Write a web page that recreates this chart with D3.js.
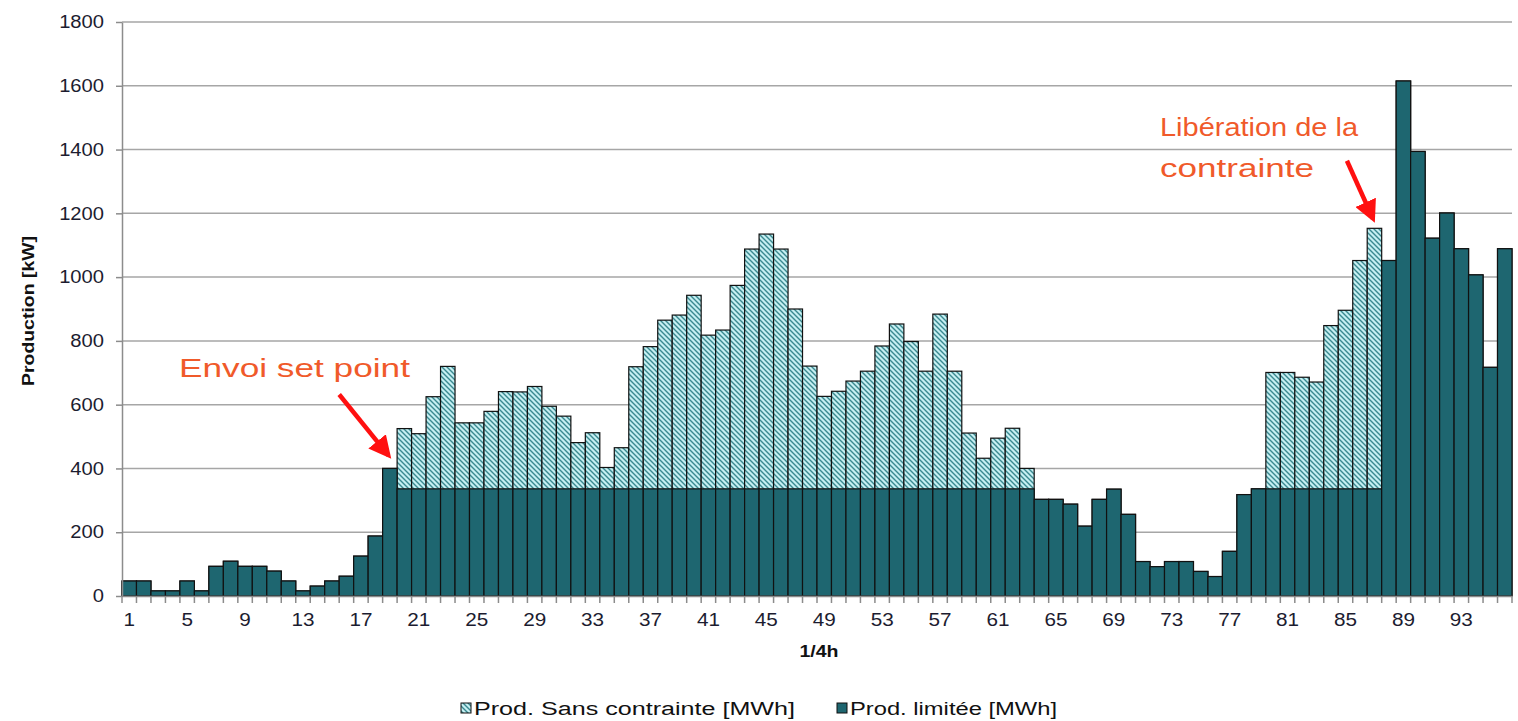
<!DOCTYPE html>
<html lang="fr">
<head>
  <meta charset="UTF-8">
  <title>Production limitée vs sans contrainte</title>
  <script src="https://d3js.org/d3.v7.min.js"></script>
  <style>
    body { margin: 0; background: #fff; }
    svg { font-family: "Liberation Sans", Arial, sans-serif; }
    .grid line { stroke: #a6a6a6; stroke-width: 1.5; }
    .axis path, .axis line { stroke: #8c8c8c; stroke-width: 1.5; }
    .axis text { fill: #1c1c30; font-size: 18px; }
    .bar-sans { fill: url(#hatch); stroke: #111; stroke-width: 1.2; }
    .bar-lim { fill: #1e6670; stroke: #111; stroke-width: 1.2; }
    .axis-title { font-weight: bold; fill: #111; font-size: 17px; }
    .note { fill: #f05a2a; font-size: 26px; }
    .legend text { font-size: 18px; fill: #111; }
  </style>
</head>
<body>
  <div id="chart"></div>
  <script>
    // quarter-hour index 1..96
    const quarters = d3.range(1, 97);

    // Prod. Sans contrainte (kW)
    const sansContrainte = [
      47, 47, 16, 16, 47, 16, 93, 109, 93, 93, 78, 47, 16, 31, 47, 62, 125, 188, 400, 525,
      509, 625, 720, 543, 543, 579, 641, 640, 657, 595, 564, 481, 512, 403, 465, 719, 782, 865, 881, 943,
      818, 834, 974, 1088, 1135, 1088, 900, 721, 626, 642, 674, 705, 784, 853, 798, 705, 884, 705, 511, 432,
      495, 526, 400, 303, 303, 288, 219, 303, 335, 256, 108, 92, 108, 108, 77, 61, 140, 318, 336, 701,
      701, 686, 671, 848, 896, 1052, 1153, 1052, 1615, 1394, 1122, 1201, 1089, 1007, 717, 1089
    ];

    // Prod. limitée (kW)
    const limitee = [
      47, 47, 16, 16, 47, 16, 93, 109, 93, 93, 78, 47, 16, 31, 47, 62, 125, 188, 400, 336,
      336, 336, 336, 336, 336, 336, 336, 336, 336, 336, 336, 336, 336, 336, 336, 336, 336, 336, 336, 336,
      336, 336, 336, 336, 336, 336, 336, 336, 336, 336, 336, 336, 336, 336, 336, 336, 336, 336, 336, 336,
      336, 336, 336, 303, 303, 288, 219, 303, 335, 256, 108, 92, 108, 108, 77, 61, 140, 318, 336, 336,
      336, 336, 336, 336, 336, 336, 336, 1052, 1615, 1394, 1122, 1201, 1089, 1007, 717, 1089
    ];

    const yTicks = [0, 200, 400, 600, 800, 1000, 1200, 1400, 1600, 1800];
    const xLabels = quarters.filter(q => (q - 1) % 4 === 0);

    // annotations: text lines + arrow anchored on (bar index, value)
    const notes = [
      { lines: ["Envoi set point"], widths: [231], x: 179, y0: 377, from: [15.5, 632], to: [18.9, 441] },
      { lines: ["Libération de la", "contrainte"], widths: [198, 154], x: 1160, y0: 136, from: [85.1, 1365], to: [86.9, 1183] }
    ];

    const W = 1518, H = 721;
    const margin = { top: 22, right: 6, bottom: 125, left: 122 };
    const width = W - margin.left - margin.right,
          height = H - margin.top - margin.bottom;

    // the source picture is a bit wider than tall: stretch text horizontally
    function stretch(sel, k) {
      sel.each(function() {
        const len = this.getComputedTextLength();
        d3.select(this).attr("textLength", len * k).attr("lengthAdjust", "spacingAndGlyphs");
      });
    }

    const svg = d3.select("#chart").append("svg")
      .attr("width", W).attr("height", H);

    const defs = svg.append("defs");
    const pat = defs.append("pattern")
      .attr("id", "hatch")
      .attr("patternUnits", "userSpaceOnUse")
      .attr("width", 5).attr("height", 5);
    pat.append("rect").attr("width", 5).attr("height", 5).attr("fill", "#c6eff2");
    pat.append("path")
      .attr("d", "M0,0 L5,5 M-1,4 L1,6 M4,-1 L6,1")
      .attr("stroke", "#3a8990").attr("stroke-width", 1.4);

    const arrowHead = defs.append("marker")
      .attr("id", "arrow")
      .attr("viewBox", "0 0 10 10")
      .attr("refX", 8).attr("refY", 5)
      .attr("markerWidth", 5).attr("markerHeight", 5)
      .attr("orient", "auto");
    arrowHead.append("path").attr("d", "M0,0 L10,5 L0,10 z").attr("fill", "#ff1010");

    const g = svg.append("g").attr("transform", `translate(${margin.left},${margin.top})`);

    const x = d3.scaleBand().domain(quarters).range([0, width]).padding(0);
    const y = d3.scaleLinear().domain([0, 1800]).range([height, 0]);
    // continuous helper for boundaries / annotation anchors (bar index -> px)
    const xi = d3.scaleLinear().domain([0.5, 96.5]).range([0, width]);

    // gridlines
    g.append("g").attr("class", "grid")
      .selectAll("line").data(yTicks.filter(t => t > 0)).join("line")
      .attr("x1", 0).attr("x2", width)
      .attr("y1", d => y(d)).attr("y2", d => y(d));

    // bars: unconstrained behind, limited in front
    g.selectAll(".bar-sans").data(quarters).join("rect")
      .attr("class", "bar-sans")
      .attr("x", d => x(d)).attr("width", x.bandwidth())
      .attr("y", d => y(sansContrainte[d - 1]))
      .attr("height", d => y(0) - y(sansContrainte[d - 1]));

    g.selectAll(".bar-lim").data(quarters).join("rect")
      .attr("class", "bar-lim")
      .attr("x", d => x(d)).attr("width", x.bandwidth())
      .attr("y", d => y(limitee[d - 1]))
      .attr("height", d => y(0) - y(limitee[d - 1]));

    // y axis
    const yAxis = g.append("g").attr("class", "axis")
      .call(d3.axisLeft(y).tickValues(yTicks).tickFormat(d3.format("d"))
        .tickSize(6).tickPadding(12).tickSizeOuter(0));
    yAxis.selectAll("text").call(stretch, 1.12);

    // x axis: labels every 4, ticks at bar boundaries
    const xAxis = g.append("g").attr("class", "axis").attr("transform", `translate(0,${height})`);
    xAxis.call(d3.axisBottom(x).tickValues(xLabels).tickSize(0).tickPadding(17).tickSizeOuter(0));
    xAxis.selectAll("text").call(stretch, 1.15);
    xAxis.selectAll(".bnd").data(quarters.concat([97])).join("line")
      .attr("class", "bnd")
      .attr("x1", d => xi(d - 0.5)).attr("x2", d => xi(d - 0.5))
      .attr("y1", 0).attr("y2", 7);

    // axis titles
    svg.append("text").attr("class", "axis-title")
      .attr("transform", `translate(34,${margin.top + height / 2 + 2}) rotate(-90)`)
      .attr("text-anchor", "middle").style("font-size", "16px")
      .attr("textLength", 150).attr("lengthAdjust", "spacingAndGlyphs")
      .text("Production [kW]");
    svg.append("text").attr("class", "axis-title")
      .attr("x", margin.left + width / 2 + 2).attr("y", 657)
      .attr("text-anchor", "middle")
      .text("1/4h")
      .call(stretch, 1.15);

    // annotations
    notes.forEach(n => {
      const t = svg.append("text").attr("class", "note");
      n.lines.forEach((l, i) => {
        t.append("tspan").attr("x", n.x).attr("y", n.y0 + i * 41)
          .attr("textLength", n.widths[i]).attr("lengthAdjust", "spacingAndGlyphs")
          .text(l);
      });
      g.append("line")
        .attr("x1", xi(n.from[0])).attr("y1", y(n.from[1]))
        .attr("x2", xi(n.to[0])).attr("y2", y(n.to[1]))
        .attr("stroke", "#ff1010").attr("stroke-width", 4.5)
        .attr("marker-end", "url(#arrow)");
    });

    // legend
    const legendItems = [
      { label: "Prod. Sans contrainte [MWh]", cls: "bar-sans", x: 461, w: 321 },
      { label: "Prod. limitée [MWh]", cls: "bar-lim", x: 837, w: 207 }
    ];
    const lg = svg.append("g").attr("class", "legend");
    legendItems.forEach(it => {
      lg.append("rect").attr("class", it.cls)
        .attr("x", it.x).attr("y", 703).attr("width", 10).attr("height", 10)
        .style("stroke-width", 1);
      lg.append("text").attr("x", it.x + 13).attr("y", 715)
        .attr("textLength", it.w).attr("lengthAdjust", "spacingAndGlyphs")
        .text(it.label);
    });
  </script>
</body>
</html>
